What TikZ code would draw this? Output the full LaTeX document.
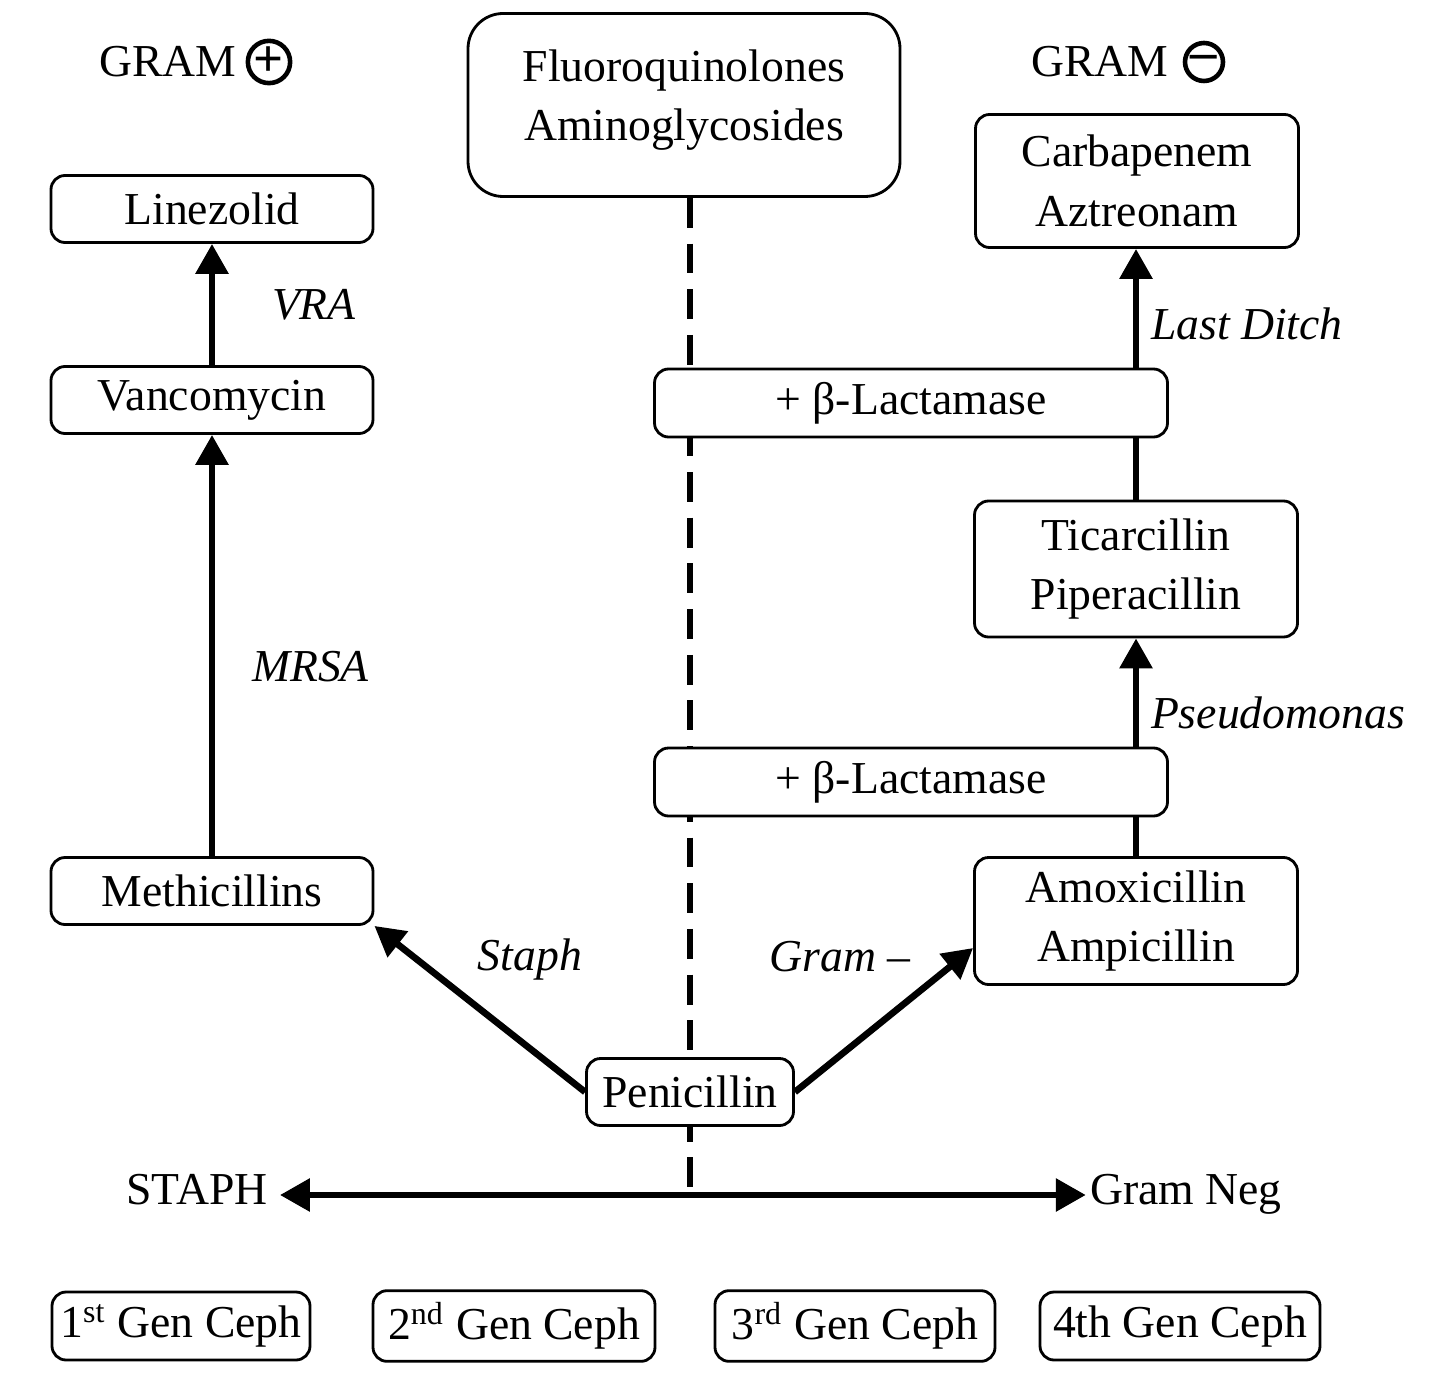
\documentclass[tikz,border=0pt]{standalone}
\usepackage{fontspec}
\setmainfont{Liberation Serif}
\usepackage{tikz}
\usetikzlibrary{arrows.meta,positioning,backgrounds}

\begin{document}
\begin{tikzpicture}[
  font=\fontsize{13}{17}\selectfont,
  box/.style={draw, line width=0.8pt, rounded corners=4pt, fill=white, align=center, minimum width=3.22cm, minimum height=0.67cm},
  wide/.style={box, minimum width=5.13cm, minimum height=0.68cm},
  ceph/.style={box, inner xsep=2pt, minimum height=0.68cm},
  sign/.style={draw, circle, line width=1.3pt, minimum size=0.38cm, inner sep=0pt, font=\fontsize{15}{15}\selectfont\bfseries},
  axislbl/.style={text height=1.6ex, text depth=0.45ex},
  lbl/.style={font=\fontsize{13}{17}\selectfont\itshape},
  arr/.style={-{Triangle[length=8.5pt, width=9pt]}, line width=1.9pt},
  dblarr/.style={{Triangle[length=8.5pt, width=9pt]}-{Triangle[length=8.5pt, width=9pt]}, line width=1.9pt},
  dashedln/.style={line width=1.7pt, dash pattern=on 8.5pt off 4.5pt}
]
  \useasboundingbox (0,0) rectangle (14.32,-13.86);

  % headings
  \node at (1.68,-0.62) (gramPos) {GRAM};
  \node[sign] at (2.69,-0.62) (plusSign) {+};
  \node at (11.00,-0.62) (gramNeg) {GRAM};
  \node[sign] at (12.04,-0.62) (minusSign) {--};
  \node[box, rounded corners=10pt, minimum width=4.32cm, minimum height=1.83cm] at (6.84,-1.05) (fluoro) {Fluoroquinolones\\Aminoglycosides\\[-0.4cm]};

  % gram positive side
  \node[box] at (2.12,-2.09) (linez) {Linezolid};
  \node[box] at (2.12,-4.00) (vanco) {Vancomycin};
  \node[box] at (2.12,-8.91) (methi) {Methicillins};

  % gram negative side
  \node[box, minimum width=3.23cm, minimum height=1.33cm] at (11.37,-1.81) (carba) {Carbapenem\\Aztreonam};
  \node[box, minimum width=3.23cm, minimum height=1.36cm] at (11.36,-5.69) (ticar) {Ticarcillin\\Piperacillin};
  \node[box, minimum width=3.23cm, minimum height=1.27cm] at (11.36,-9.21) (amox) {Amoxicillin\\Ampicillin};
  \node[box, minimum width=2.07cm] at (6.90,-10.92) (penic) {Penicillin};

  \node[wide] at (9.11,-4.03) (lactTop) {+ β-Lactamase};
  \node[wide] at (9.11,-7.82) (lactLow) {+ β-Lactamase};

  % axis
  \node[axislbl] at (1.97,-11.95) (staph) {STAPH};
  \node[axislbl] at (11.86,-11.95) (gramneg) {Gram Neg};

  % cephalosporins
  \node[ceph, minimum width=2.58cm] at (1.81,-13.26) (ceph1) {1\textsuperscript{st} Gen Ceph};
  \node[ceph, minimum width=2.82cm] at (5.14,-13.26) (ceph2) {2\textsuperscript{nd} Gen Ceph};
  \node[ceph, minimum width=2.80cm] at (8.55,-13.26) (ceph3) {3\textsuperscript{rd} Gen Ceph};
  \node[ceph, minimum width=2.80cm] at (11.80,-13.26) (ceph4) {4th Gen Ceph};

  \begin{scope}[on background layer]
    \draw[dashedln] (fluoro.south -| penic.north) -- (penic.south |- staph.east);
    \draw[arr] (amox.north -| ticar.south) -- node[lbl, pos=0.66, right] {Pseudomonas} (ticar.south);
    \draw[arr] (ticar.north) -- node[lbl, pos=0.7, right] {Last Ditch} (ticar.north |- carba.south);
  \end{scope}

  \draw[arr] (vanco.north) -- node[lbl, right=0.45cm] {VRA} (linez.south);
  \draw[arr] (methi.north) -- node[lbl, pos=0.45, right=0.25cm] {MRSA} (vanco.south);
  \draw[arr] (penic.west) -- node[lbl, pos=0.58, above right] {Staph} (methi.south east);
  \draw[arr] (penic.east) -- node[lbl, pos=0.45, above=0.4cm, xshift=-0.35cm] {Gram --} ([yshift=-0.27cm]amox.west);
  \draw[dblarr] (staph.east) -- ([xshift=0.08cm]gramneg.west);
\end{tikzpicture}
\end{document}
